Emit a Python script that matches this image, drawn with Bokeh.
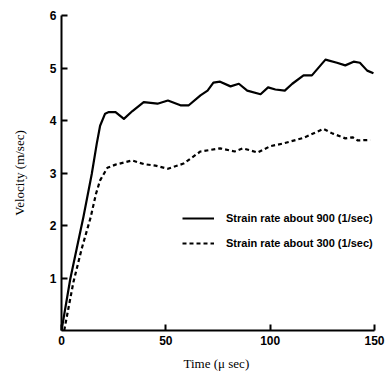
from bokeh.plotting import figure
from bokeh.models import Range1d, FixedTicker, Legend, LegendItem
from bokeh.embed import file_html
from bokeh.resources import INLINE

# Data
t_900 = [0, 4.2, 7.3, 10.5, 14.5, 16.9, 18.5, 20.9, 22.7, 25.9, 29.9, 34, 39.4, 46, 51, 57, 61, 66.6, 70, 72.8,
         76, 81, 85, 89, 95.4, 99, 102.5, 107, 110.6, 116, 120, 126.5, 132, 136, 140, 143, 146.5, 149.5]
v_900 = [0, 0.98, 1.56, 2.16, 2.98, 3.56, 3.9, 4.13, 4.16, 4.16, 4.03, 4.18, 4.35, 4.32, 4.38, 4.29, 4.29,
         4.48, 4.57, 4.72, 4.74, 4.65, 4.7, 4.57, 4.5, 4.63, 4.59, 4.57, 4.70, 4.86, 4.86, 5.16, 5.1, 5.05,
         5.12, 5.1, 4.95, 4.9]
t_300 = [1.3, 5.7, 9.7, 14, 16.5, 18.5, 22, 25.9, 33.9, 39.4, 45, 51, 58.5, 66.6, 76, 83, 87, 94, 100, 106,
         116, 125.6, 130, 136, 139.5, 142, 148]
v_300 = [0, 0.92, 1.56, 2.16, 2.6, 2.86, 3.1, 3.16, 3.24, 3.17, 3.14, 3.08, 3.18, 3.41, 3.47, 3.41, 3.47,
         3.39, 3.51, 3.56, 3.67, 3.84, 3.75, 3.66, 3.68, 3.62, 3.63]
x_ticks = [0, 50, 100, 150]
y_ticks = [1, 2, 3, 4, 5, 6]
labels = ["Strain rate about 900 (1/sec)", "Strain rate about 300 (1/sec)"]

p = figure(width=387, height=381, output_backend="svg", toolbar_location=None,
           x_range=Range1d(0, 150), y_range=Range1d(0, 6),
           min_border_left=61, min_border_right=13, min_border_top=15, min_border_bottom=51)
p.outline_line_color = None
p.grid.visible = False
p.background_fill_color = "white"

for ax in (p.xaxis[0], p.yaxis[0]):
    ax.major_tick_in = 6
    ax.major_tick_out = 0
    ax.minor_tick_line_color = None
    ax.axis_line_width = 2
    ax.major_tick_line_width = 2
    ax.axis_line_color = "black"
    ax.major_tick_line_color = "black"
    ax.major_label_text_font = "Liberation Sans"
    ax.major_label_text_font_style = "bold"
    ax.major_label_text_font_size = "12px"
    ax.major_label_text_color = "black"
    ax.axis_label_text_font = "Liberation Serif"
    ax.axis_label_text_font_style = "normal"
    ax.axis_label_text_font_size = "13px"
    ax.axis_label_text_color = "black"

p.xaxis.ticker = FixedTicker(ticks=x_ticks)
p.yaxis.ticker = FixedTicker(ticks=y_ticks)
p.xaxis.axis_label = "Time  (\u03bc sec)"
p.yaxis.axis_label = "Velocity (m/sec)"
p.xaxis.major_label_standoff = 5
p.yaxis.major_label_standoff = 5
p.xaxis.axis_label_standoff = 8
p.yaxis.axis_label_standoff = 20

r1 = p.line(t_900, v_900, line_color="black", line_width=2.2, line_join="round")
r2 = p.line(t_300, v_300, line_color="black", line_width=2.2, line_dash="4 3")

legend = Legend(items=[LegendItem(label=labels[0], renderers=[r1]),
                       LegendItem(label=labels[1], renderers=[r2])],
                location=(121, 77), padding=0, margin=0, spacing=5,
                glyph_width=32, glyph_height=20, label_height=20, label_standoff=12,
                border_line_alpha=0, background_fill_alpha=0,
                label_text_font="Liberation Sans", label_text_font_size="11px",
                label_text_font_style="bold", label_text_color="black")
p.add_layout(legend, "center")

open("out.html", "w").write(file_html(p, INLINE))
